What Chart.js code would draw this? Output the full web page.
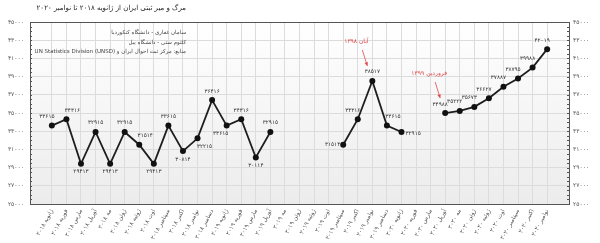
<!DOCTYPE html>
<html><head><meta charset="utf-8">
<script src="https://cdn.jsdelivr.net/npm/chart.js@4/dist/chart.umd.min.js"></script>
<style>html,body{margin:0;padding:0;background:#fff}#wrap{width:600px;height:243px;position:relative}</style>
</head><body><div id="wrap"><canvas id="c"></canvas></div>
<script>
// ---- data ----
const categories = [
 'ژانویه ۲۰۱۸','فوریه ۲۰۱۸','مارس ۲۰۱۸','آوریل ۲۰۱۸','مه ۲۰۱۸','ژوئن ۲۰۱۸','ژوئیه ۲۰۱۸','اوت ۲۰۱۸','سپتامبر ۲۰۱۸','اکتبر ۲۰۱۸','نوامبر ۲۰۱۸','دسامبر ۲۰۱۸',
 'ژانویه ۲۰۱۹','فوریه ۲۰۱۹','مارس ۲۰۱۹','آوریل ۲۰۱۹','مه ۲۰۱۹','ژوئن ۲۰۱۹','ژوئیه ۲۰۱۹','اوت ۲۰۱۹','سپتامبر ۲۰۱۹','اکتبر ۲۰۱۹','نوامبر ۲۰۱۹','دسامبر ۲۰۱۹',
 'ژانویه ۲۰۲۰','فوریه ۲۰۲۰','مارس ۲۰۲۰','آوریل ۲۰۲۰','مه ۲۰۲۰','ژوئن ۲۰۲۰','ژوئیه ۲۰۲۰','اوت ۲۰۲۰','سپتامبر ۲۰۲۰','اکتبر ۲۰۲۰','نوامبر ۲۰۲۰'
];
const deaths2018 = [33615, 34316, 29413, 32915, 29413, 32915, 31514, 29413, 33615, 30814, 32215, 36416];
const deaths2019 = [33615, 34316, 30114, 32915, null, null, null, null, 31514, 34316, 38517, 33615];
const deaths2020 = [32915, null, null, 34988, 35222, 35673, 36627, 37887, 38795, 39988, 42019];
const yTickValues = [25000, 27000, 29000, 31000, 33000, 35000, 37000, 39000, 41000, 43000, 45000];
const titleText = 'مرگ و میر ثبتی ایران از ژانویه ۲۰۱۸ تا نوامبر ۲۰۲۰';
const creditLines = [
 'سامان غفاری - دانشگاه کنکوردیا',
 'کلثوم ستی - دانشگاه ییل',
 'منابع: مرکز ثبت احوال ایران و UN Statistics Division (UNSD)'
];
const noteMonths = ['نوامبر ۲۰۱۹', 'آوریل ۲۰۲۰'];
const noteTexts = ['آبان ۱۳۹۸', 'فروردین ۱۳۹۹'];

// label placement codes (style only)
const placement = ['al','ar','b','a','b','a','ar','b','a','b','br','a',
                   'bl','a','b','a',null,null,null,null,'l','al','a','ar',
                   'r',null,null,'al','al','al','al','al','al','al','al'];

const deaths = deaths2018.concat(deaths2019, deaths2020);
const labels = [''].concat(categories, ['']);
const values = [null].concat(deaths, [null]);

const fa = s => String(s).replace(/\d/g, d => '۰۱۲۳۴۵۶۷۸۹'[d]);
const FONT = '"DejaVu Sans", sans-serif';

const bgPlugin = {
  id: 'bg',
  beforeDraw(chart) {
    const {ctx, chartArea: a} = chart;
    const g = ctx.createLinearGradient(0, a.top, 0, a.bottom);
    g.addColorStop(0, '#ffffff');
    g.addColorStop(1, '#ececec');
    ctx.save(); ctx.fillStyle = g;
    ctx.fillRect(a.left, a.top, a.right - a.left, a.bottom - a.top);
    ctx.restore();
  }
};

const labelPlugin = {
  id: 'vals',
  afterDatasetsDraw(chart) {
    const {ctx} = chart;
    const meta = chart.getDatasetMeta(0);
    ctx.save();
    ctx.font = '5.7px ' + FONT;
    ctx.fillStyle = '#333';
    ctx.textBaseline = 'middle';
    meta.data.forEach((pt, i) => {
      const v = values[i];
      if (v == null) return;
      const code = placement[i - 1];
      let dx = 0, dy = -9, al = 'center';
      switch (code) {
        case 'a': dx = 0; dy = -9; break;
        case 'b': dx = 0; dy = 8; break;
        case 'al': dx = -5; dy = -9; break;
        case 'ar': dx = 6; dy = -9; break;
        case 'bl': dx = -6; dy = 8; break;
        case 'br': dx = 7; dy = 8; break;
        case 'l': dx = -3; dy = 0; al = 'right'; break;
        case 'r': dx = 4; dy = 2; al = 'left'; break;
      }
      ctx.textAlign = al;
      ctx.fillText(fa(v), pt.x + dx, pt.y + dy);
    });
    ctx.restore();
  }
};

const framePlugin = {
  id: 'frame',
  afterDraw(chart) {
    const {ctx, chartArea: a, scales} = chart;
    ctx.save();
    ctx.strokeStyle = '#555';
    ctx.lineWidth = 1;
    ctx.strokeRect(Math.round(a.left) + 0.5, Math.round(a.top) + 0.5, Math.round(a.right - a.left), Math.round(a.bottom - a.top));
    const y = scales.y;
    ctx.beginPath();
    for (let v = y.min; v <= y.max; v += 500) {
      const py = Math.round(y.getPixelForValue(v)) + 0.5;
      ctx.moveTo(a.left, py); ctx.lineTo(a.left + 2, py);
      ctx.moveTo(a.right - 2, py); ctx.lineTo(a.right, py);
    }
    ctx.stroke();
    // notes (arrows)
    const meta = chart.getDatasetMeta(0);
    ctx.strokeStyle = '#e0474c';
    ctx.fillStyle = '#e0474c';
    ctx.font = '6px ' + FONT;
    ctx.textAlign = 'center';
    ctx.textBaseline = 'middle';
    noteMonths.forEach((m, k) => {
      const idx = labels.indexOf(m);
      const pt = meta.data[idx];
      const tx = pt.x - 16, ty = pt.y - 40;
      ctx.fillText(noteTexts[k], tx, ty);
      const x1 = pt.x - 10, y1 = pt.y - 31, x2 = pt.x - 5, y2 = pt.y - 15;
      ctx.lineWidth = 0.8;
      ctx.beginPath(); ctx.moveTo(x1, y1); ctx.lineTo(x2, y2); ctx.stroke();
      const ang = Math.atan2(y2 - y1, x2 - x1);
      ctx.beginPath();
      ctx.moveTo(x2, y2);
      ctx.lineTo(x2 - 4 * Math.cos(ang - 0.45), y2 - 4 * Math.sin(ang - 0.45));
      ctx.lineTo(x2 - 4 * Math.cos(ang + 0.45), y2 - 4 * Math.sin(ang + 0.45));
      ctx.closePath(); ctx.fill();
    });
    // credits
    ctx.fillStyle = '#444';
    ctx.direction = 'rtl';
    ctx.textAlign = 'right';
    ctx.font = '5.5px ' + FONT;
    creditLines.forEach((t, k) => ctx.fillText(t, a.left + 156, a.top + 11 + k * 9.5));
    // title
    ctx.font = '7px ' + FONT;
    ctx.fillStyle = '#222';
    ctx.fillText(titleText, 186, 8);
    ctx.restore();
  }
};

const tickFont = {family: FONT, size: 6};
new Chart(document.getElementById('c'), {
  type: 'line',
  data: {
    labels: labels,
    datasets: [{
      data: values,
      borderColor: '#1e1e1e',
      borderWidth: 1.8,
      pointRadius: 3,
      pointHoverRadius: 3,
      pointBackgroundColor: '#111',
      pointBorderWidth: 0,
      spanGaps: false,
      tension: 0
    }]
  },
  options: {
    responsive: true,
    maintainAspectRatio: false,
    animation: false,
    devicePixelRatio: 1,
    layout: {padding: {top: 22, left: 0, right: 0, bottom: 0}},
    plugins: {legend: {display: false}, tooltip: {enabled: false}, title: {display: false}},
    scales: {
      x: {
        type: 'category',
        offset: true,
        grid: {
          color: c => (c.index === 0 || c.index === labels.length - 1) ? 'rgba(0,0,0,0)' : '#dcdcdc',
          drawTicks: false
        },
        border: {display: false},
        ticks: {autoSkip: false, minRotation: 62, maxRotation: 62, font: tickFont, color: '#555', padding: 4},
        afterFit: s => { s.height = 39; }
      },
      y: {
        min: 25000, max: 45000,
        afterBuildTicks: s => { s.ticks = yTickValues.map(v => ({value: v})); },
        ticks: {callback: v => fa(v), font: tickFont, color: '#555', padding: 6},
        grid: {color: '#dcdcdc', drawTicks: false},
        border: {display: false},
        afterFit: s => { s.width = 30; }
      },
      y2: {
        position: 'right',
        min: 25000, max: 45000,
        afterBuildTicks: s => { s.ticks = yTickValues.map(v => ({value: v})); },
        ticks: {callback: v => fa(v), font: tickFont, color: '#555', padding: 4},
        grid: {display: false, drawTicks: false},
        border: {display: false},
        afterFit: s => { s.width = 31; }
      }
    }
  },
  plugins: [bgPlugin, labelPlugin, framePlugin]
});
</script>
</body></html>
